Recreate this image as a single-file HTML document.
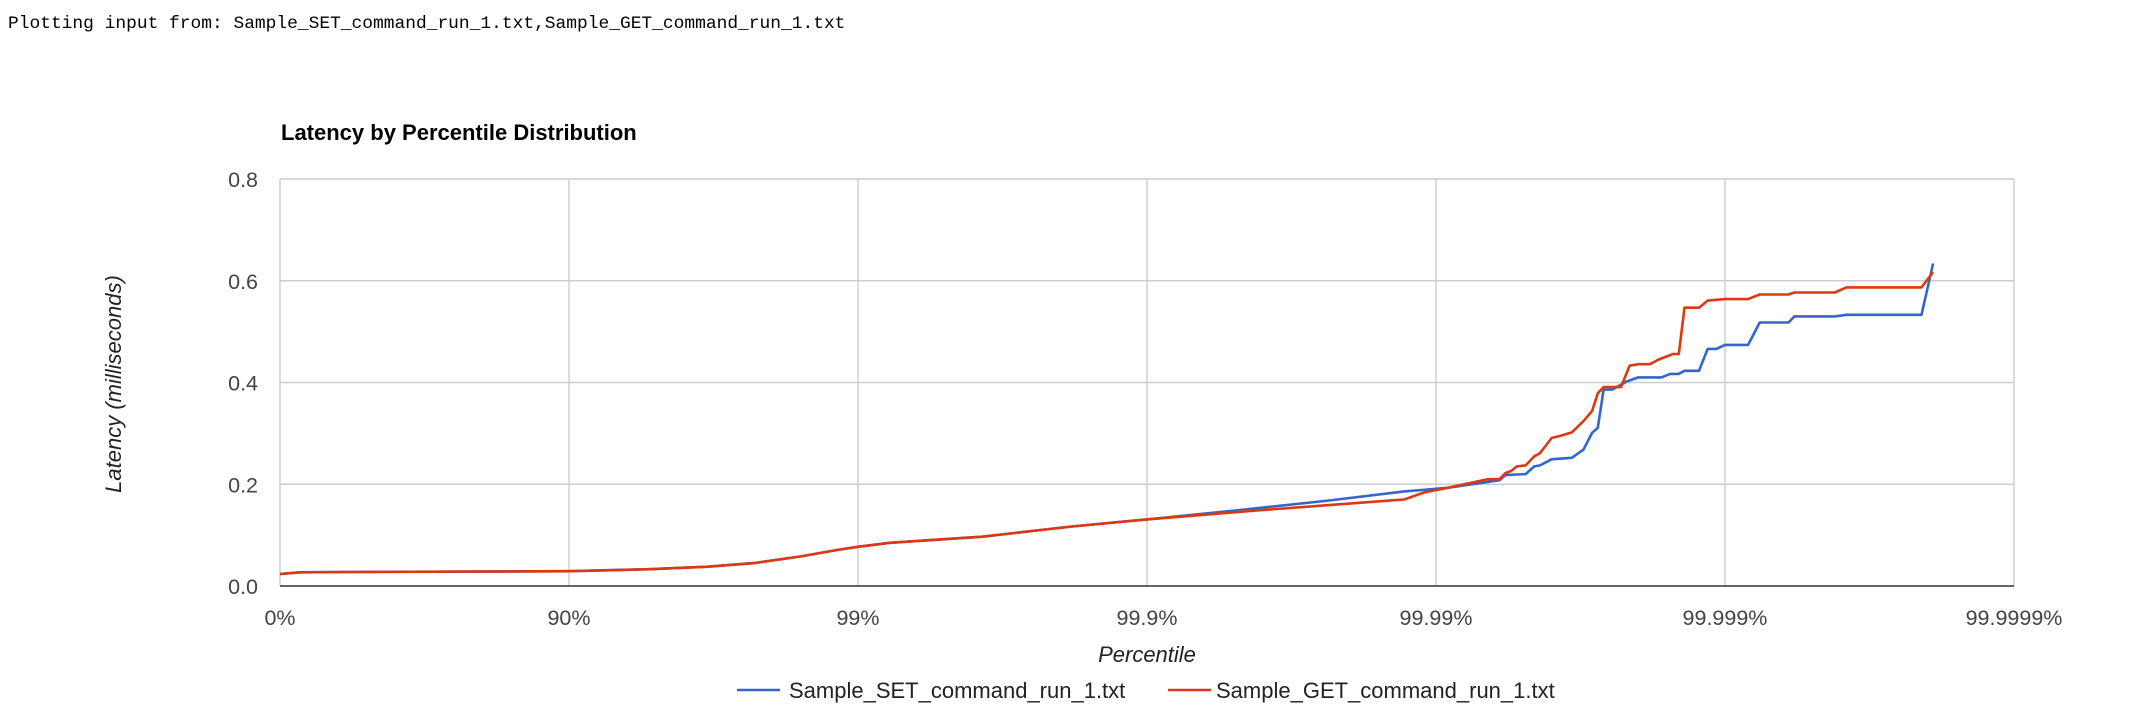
<!DOCTYPE html>
<html><head><meta charset="utf-8"><style>
body{margin:0;background:#fff;width:2138px;height:714px;overflow:hidden}
#hdr{position:absolute;left:8px;top:14px;font:17.9px "Liberation Mono",monospace;color:#000;white-space:pre}
svg{position:absolute;left:0;top:0}
text{font-family:"Liberation Sans",Arial,sans-serif}
</style></head><body>
<div id="hdr">Plotting input from: Sample_SET_command_run_1.txt,Sample_GET_command_run_1.txt</div>
<svg id="chart" width="2138" height="714"></svg>
<script>
const xTickLabels=["0%","90%","99%","99.9%","99.99%","99.999%","99.9999%"];
const yTickLabels=["0.0","0.2","0.4","0.6","0.8"];
const yTickValues=[0,0.2,0.4,0.6,0.8];
const seriesNames=["Sample_SET_command_run_1.txt","Sample_GET_command_run_1.txt"];
// x in "nines" units: -log10(1-p)
const setX=[0,0.07,0.23,1.0,1.28,1.48,1.64,1.8,1.93,2.0,2.11,2.43,2.74,3.0,3.3,3.63,3.89,3.96,4.04,4.22,4.24,4.31,4.34,4.36,4.40,4.47,4.51,4.54,4.56,4.58,4.61,4.66,4.70,4.78,4.81,4.84,4.86,4.91,4.94,4.97,5.0,5.08,5.12,5.22,5.24,5.38,5.42,5.68,5.72];
const setY=[0.0236,0.027,0.0275,0.029,0.033,0.038,0.045,0.058,0.071,0.077,0.085,0.097,0.117,0.131,0.148,0.168,0.186,0.189,0.193,0.208,0.218,0.22,0.235,0.237,0.249,0.252,0.268,0.301,0.311,0.386,0.386,0.402,0.41,0.41,0.417,0.417,0.423,0.423,0.466,0.466,0.474,0.474,0.518,0.518,0.53,0.53,0.533,0.533,0.634];
const getX=[0,0.07,0.23,1.0,1.28,1.48,1.64,1.8,1.93,2.0,2.11,2.43,2.74,3.0,3.37,3.63,3.89,3.96,4.04,4.18,4.22,4.24,4.26,4.28,4.31,4.34,4.36,4.40,4.43,4.47,4.51,4.54,4.56,4.58,4.64,4.67,4.70,4.74,4.77,4.82,4.84,4.86,4.91,4.94,5.0,5.08,5.12,5.22,5.24,5.38,5.42,5.68,5.72];
const getY=[0.0236,0.027,0.0275,0.029,0.033,0.038,0.045,0.058,0.071,0.077,0.085,0.097,0.117,0.131,0.148,0.159,0.170,0.184,0.193,0.21,0.21,0.222,0.226,0.235,0.237,0.255,0.261,0.291,0.295,0.302,0.324,0.344,0.379,0.391,0.391,0.433,0.436,0.436,0.445,0.456,0.456,0.547,0.547,0.561,0.564,0.564,0.573,0.573,0.577,0.577,0.587,0.587,0.617];
const L=280,R=2014,B=586,T=179;
const xs=u=>L+u*(R-L)/6;
const ys=v=>B-v*(B-T)/0.8;
const svg=document.getElementById('chart');
const NS="http://www.w3.org/2000/svg";
function mk(tag,attrs,txt){const e=document.createElementNS(NS,tag);for(const k in attrs)e.setAttribute(k,attrs[k]);if(txt!==undefined)e.textContent=txt;svg.appendChild(e);return e;}
let e=mk('text',{x:281,y:140,'font-size':22,'font-weight':'bold',fill:'#000'},'Latency by Percentile Distribution');


xTickLabels.forEach((t,i)=>{
 const g=mk('line',{x1:xs(i),x2:xs(i),y1:T,y2:B,stroke:'#ccc','stroke-width':1.4});
 
 
 const l=mk('text',{x:xs(i),y:625,'font-size':21.5,fill:'#444','text-anchor':'middle'},t);
 
 
});
yTickValues.forEach((v,i)=>{
 if(v>0){const g=mk('line',{x1:L,x2:R,y1:ys(v),y2:ys(v),stroke:'#ccc','stroke-width':1.4});
 
 }
 const l=mk('text',{x:258,y:ys(v)+8,'font-size':21.5,fill:'#444','text-anchor':'end'},yTickLabels[i]);
 
 
});
e=mk('line',{x1:L,x2:R,y1:B,y2:B,stroke:'#333','stroke-width':1.5});


function path(X,Y,c,name){const d=X.map((u,i)=>(i?'L':'M')+xs(u).toFixed(1)+' '+ys(Y[i]).toFixed(1)).join(' ');
 const p=mk('path',{d:d,fill:'none',stroke:c,'stroke-width':2.6,'stroke-linejoin':'round'});
 
 }
path(setX,setY,'#3366cc','set-series-line');
path(getX,getY,'#dc3912','get-series-line');
e=mk('text',{x:1147,y:662,'font-size':22,'font-style':'italic',fill:'#222','text-anchor':'middle'},'Percentile');


e=mk('text',{x:0,y:0,'font-size':22,'font-style':'italic',fill:'#222','text-anchor':'middle',transform:'translate(121,384) rotate(-90)'},'Latency (milliseconds)');


const lg=[[737,789,'#3366cc'],[1168,1216,'#dc3912']];
lg.forEach((a,i)=>{
 const s=mk('line',{x1:a[0],x2:a[0]+43,y1:690,y2:690,stroke:a[2],'stroke-width':2.6});
 
 
 const t=mk('text',{x:a[1],y:698,'font-size':22,fill:'#222'},seriesNames[i]);
 
 
});
</script>
</body></html>
